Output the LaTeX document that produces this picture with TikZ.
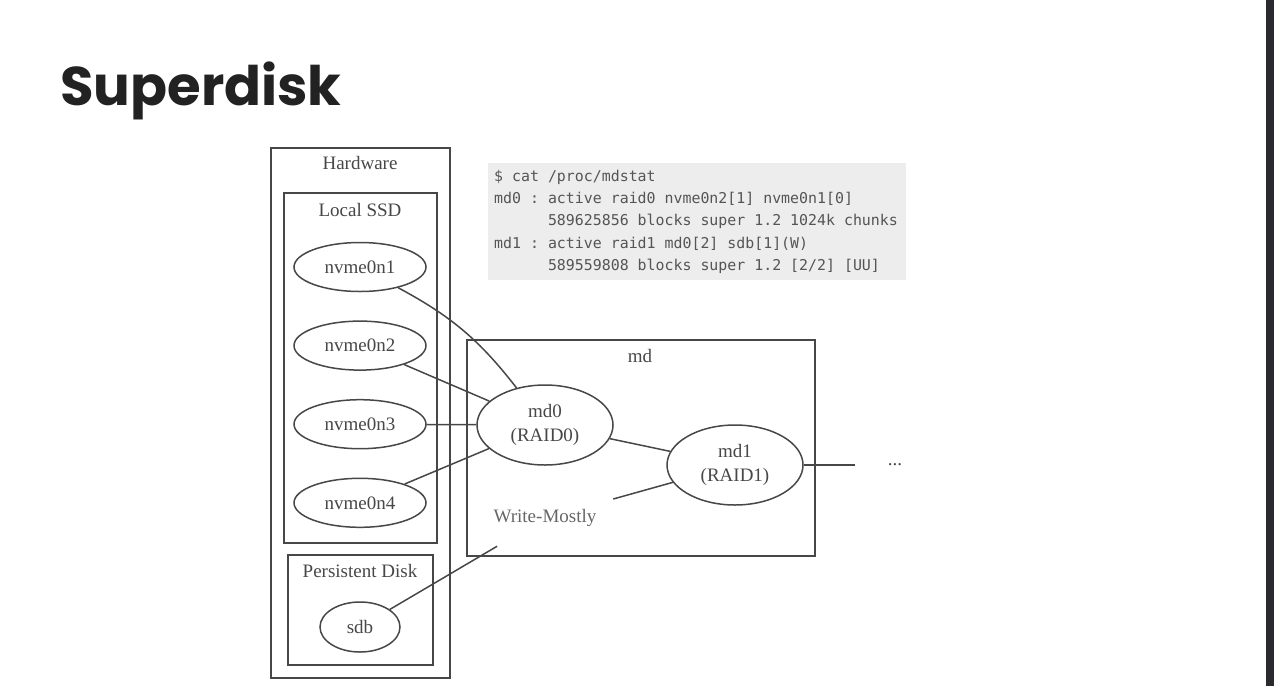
\documentclass[tikz,border=0pt]{standalone}
\usepackage{fontspec}
\setmainfont{Liberation Serif}
\setmonofont{DejaVu Sans Mono}
\newfontfamily\titlefont{Poppins}
\usetikzlibrary{positioning, shapes.geometric}
\definecolor{ink}{HTML}{474747}
\definecolor{softink}{HTML}{666666}
\definecolor{codebg}{HTML}{EDEDED}
\definecolor{codeink}{HTML}{555555}
\definecolor{titleink}{HTML}{222222}
\definecolor{frame}{HTML}{2B2B2F}
\newcommand{\fixedspaces}{\spaceskip=0.602em\xspaceskip=0.602em\relax}

\begin{document}
\begin{tikzpicture}[
    x=1pt, y=-1pt,
    disk/.style={ellipse,draw=ink,line width=1.5pt,inner sep=0pt,minimum width=132,minimum height=49,text=ink,font=\fontsize{19}{24}\selectfont},
    raid/.style={disk,minimum width=136,minimum height=80,align=center},
    cluster/.style={draw=ink,line width=1.5pt},
    caption/.style={text=ink,inner sep=0pt,font=\fontsize{19}{24}\selectfont},
    link/.style={draw=ink,line width=1.5pt},
    codebox/.style={fill=codebg,text=codeink,text width=406,inner xsep=6,inner ysep=4,minimum height=117,align=left,font=\ttfamily\fontsize{14.9}{22.25}\selectfont}
]
\useasboundingbox (0,0) rectangle (1274,686);

% Slide frame and title
\fill[frame] (1266,0) rectangle (1274,686);
\node[anchor=base west, inner sep=0pt, text=titleink, font=\titlefont\bfseries\fontsize{54.5}{60}\selectfont] (title) at (60,105) {Superdisk};

% mdstat output
\node[codebox, anchor=north west] (mdstat) at (488,163) {\fixedspaces\$ cat /proc/mdstat\\
md0 : active raid0 nvme0n2[1] nvme0n1[0]\\
\hphantom{md0 : }589625856 blocks super 1.2 1024k chunks\\
md1 : active raid1 md0[2] sdb[1](W)\\
\hphantom{md1 : }589559808 blocks super 1.2 [2/2] [UU]};

% Hardware cluster
\draw[cluster] (271,148) rectangle (450,678);
\node[caption] (hwlabel) at (360,163) {Hardware};

% Local SSD
\draw[cluster] (284,193) rectangle (437,543);
\node[caption] (ssdlabel) at (360,210) {Local SSD};
\foreach \i in {1,2,3,4} {
    \node[disk] (nvme\i) at (360,{267+78.6*(\i-1)}) {nvme0n\i};
}

% Persistent disk
\draw[cluster] (288,555) rectangle (433,665);
\node[caption] (pdlabel) at (360,571) {Persistent Disk};
\node[disk, minimum width=80, minimum height=50] (sdb) at (360,627) {sdb};

% md cluster
\draw[cluster] (467,340) rectangle (815,556);
\node[caption] (mdlabel) at (640,356) {md};
\node[raid] (md0) at (545,425) {md0\\(RAID0)};
\node[raid] (md1) at (735,465) {md1\\(RAID1)};
\node[caption, text=softink, minimum width=136, minimum height=56] (wm) at (545,518) {Write-Mostly};
\node[caption, minimum width=80] (more) at (895,465) {...};

% Edges
\draw[link] (nvme1) to[bend left=12] (md0);
\foreach \i in {2,3,4} {
    \draw[link] (nvme\i) -- (md0);
}
\draw[link] (md0) -- (md1);
\draw[link] (sdb) -- (wm);
\draw[link] (wm) -- (md1);
\draw[link] (md1) -- (more);

\end{tikzpicture}
\end{document}
